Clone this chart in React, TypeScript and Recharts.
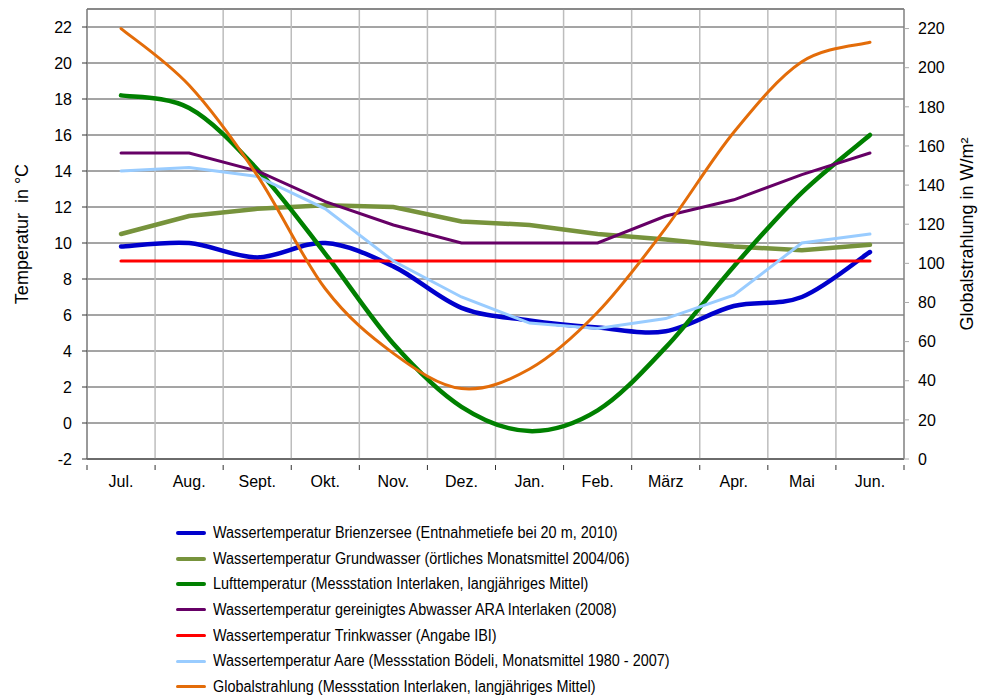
import { ComposedChart, Line, XAxis, YAxis, CartesianGrid, ReferenceLine, Label } from 'recharts';

// Monthly values, Jul -> Jun
const months = ['Jul.', 'Aug.', 'Sept.', 'Okt.', 'Nov.', 'Dez.', 'Jan.', 'Feb.', 'März', 'Apr.', 'Mai', 'Jun.'];
const brienzersee = [9.8, 10.0, 9.2, 10.0, 8.7, 6.4, 5.7, 5.3, 5.1, 6.5, 7.0, 9.5];
const grundwasser = [10.5, 11.5, 11.9, 12.1, 12.0, 11.2, 11.0, 10.5, 10.2, 9.8, 9.6, 9.9];
const luft = [18.2, 17.5, 14.1, 9.4, 4.4, 0.9, -0.45, 0.7, 4.2, 8.7, 12.8, 16.0];
const abwasser = [15, 15, 14.0, 12.3, 11.0, 10, 10, 10, 11.5, 12.4, 13.8, 15];
const trinkwasser = [9, 9, 9, 9, 9, 9, 9, 9, 9, 9, 9, 9];
const aare = [14, 14.2, 13.7, 11.9, 9.0, 7.0, 5.55, 5.25, 5.8, 7.1, 10.0, 10.5];
const globalstrahlung = [220, 191, 145, 87, 54, 36, 46, 75, 118, 167, 203, 213];

const tempTicks = [-2, 0, 2, 4, 6, 8, 10, 12, 14, 16, 18, 20, 22];
const radTicks = [0, 20, 40, 60, 80, 100, 120, 140, 160, 180, 200, 220];

const FONT = '"Liberation Sans", Arial, sans-serif';

// Excel-style smoothed line (Catmull-Rom as cubic bezier)
const excelSmooth = (context: any) => {
  let pts: number[][] = [];
  return {
    areaStart() {},
    areaEnd() {},
    lineStart() {
      pts = [];
    },
    lineEnd() {
      if (!pts.length) return;
      context.moveTo(pts[0][0], pts[0][1]);
      for (let i = 0; i < pts.length - 1; i++) {
        const p0 = pts[Math.max(i - 1, 0)];
        const p1 = pts[i];
        const p2 = pts[i + 1];
        const p3 = pts[Math.min(i + 2, pts.length - 1)];
        context.bezierCurveTo(
          p1[0] + (p2[0] - p0[0]) / 6,
          p1[1] + (p2[1] - p0[1]) / 6,
          p2[0] - (p3[0] - p1[0]) / 6,
          p2[1] - (p3[1] - p1[1]) / 6,
          p2[0],
          p2[1],
        );
      }
    },
    point(x: number, y: number) {
      pts.push([+x, +y]);
    },
  };
};

const series = [
  { key: 'brienzersee', name: 'Wassertemperatur Brienzersee (Entnahmetiefe bei 20 m, 2010)', color: '#0000cc', width: 4.5, smooth: true, axis: 'left' },
  { key: 'grundwasser', name: 'Wassertemperatur Grundwasser (örtliches Monatsmittel 2004/06)', color: '#77933c', width: 4.5, smooth: false, axis: 'left' },
  { key: 'luft', name: 'Lufttemperatur (Messstation Interlaken, langjähriges Mittel)', color: '#008000', width: 4.5, smooth: true, axis: 'left' },
  { key: 'abwasser', name: 'Wassertemperatur gereinigtes Abwasser ARA Interlaken (2008)', color: '#660066', width: 3, smooth: false, axis: 'left' },
  { key: 'trinkwasser', name: 'Wassertemperatur Trinkwasser (Angabe IBI)', color: '#ff0000', width: 3.2, smooth: false, axis: 'left' },
  { key: 'aare', name: 'Wassertemperatur Aare (Messstation Bödeli, Monatsmittel 1980 - 2007)', color: '#99ccff', width: 3, smooth: false, axis: 'left' },
  { key: 'globalstrahlung', name: 'Globalstrahlung (Messstation Interlaken, langjähriges Mittel)', color: '#e36c09', width: 3, smooth: true, axis: 'right' },
];

const data = months.map((month, i) => ({
  month,
  brienzersee: brienzersee[i],
  grundwasser: grundwasser[i],
  luft: luft[i],
  abwasser: abwasser[i],
  trinkwasser: trinkwasser[i],
  aare: aare[i],
  globalstrahlung: globalstrahlung[i],
}));

const tickStyle = { fill: '#000', fontSize: 16, fontFamily: FONT };

// month label plus tick marks on the category boundaries
const MonthTick = ({ x, y, payload, index, width, visibleTicksCount }: any) => {
  const half = width / (visibleTicksCount || months.length) / 2;
  return (
    <g>
      <line x1={x - half} x2={x - half} y1={y - 2} y2={y + 3} stroke="#333" />
      {index === months.length - 1 && <line x1={x + half} x2={x + half} y1={y - 2} y2={y + 3} stroke="#333" />}
      <text x={x} y={y + 20} textAnchor="middle" {...tickStyle}>
        {payload.value}
      </text>
    </g>
  );
};

const ChartLegend = () => (
  <div style={{ position: 'absolute', left: 176, top: 520, fontFamily: FONT, fontSize: 16, color: '#000' }}>
    {series.map((s) => (
      <div key={s.key} style={{ display: 'flex', alignItems: 'center', height: 25.7 }}>
        <div style={{ width: 30, height: 0, borderTop: `${s.width}px solid ${s.color}`, borderRadius: 2, marginRight: 7 }} />
        <span style={{ display: 'inline-block', transform: 'scaleX(0.9)', transformOrigin: 'left center', whiteSpace: 'nowrap' }}>
          {s.name}
        </span>
      </div>
    ))}
  </div>
);

export default function App() {
  return (
    <div style={{ position: 'absolute', left: 0, top: 0, width: 986, height: 700, background: '#fff' }}>
      <ComposedChart width={986} height={700} data={data} margin={{ top: 9, right: 0, bottom: 211, left: 0 }}>
        <CartesianGrid yAxisId="left" vertical={false} stroke="#4a4a4a" strokeWidth={1} />
        <CartesianGrid
          yAxisId="left"
          horizontal={false}
          stroke="#bdbdbd"
          strokeWidth={1.5}
          verticalCoordinatesGenerator={({ offset }: any) =>
            months.map((_, i) => offset.left + (i * offset.width) / months.length)
          }
        />
        <XAxis
          dataKey="month"
          scale="band"
          height={30}
          axisLine={{ stroke: '#333' }}
          tickLine={false}
          tick={<MonthTick />}
          interval={0}
        />
        <YAxis
          yAxisId="left"
          width={87}
          domain={[-2, 23]}
          ticks={tempTicks}
          allowDataOverflow
          tick={tickStyle}
          tickSize={5}
          tickMargin={10}
          axisLine={{ stroke: '#666' }}
          tickLine={{ stroke: '#333' }}
        >
          <Label
            value={'Temperatur\u00a0 in °C'}
            angle={-90}
            position="insideLeft"
            offset={22}
            style={{ textAnchor: 'middle', fill: '#000', fontSize: 18, fontFamily: FONT }}
          />
        </YAxis>
        <YAxis
          yAxisId="right"
          orientation="right"
          width={82}
          domain={[0, 230]}
          ticks={radTicks}
          allowDataOverflow
          tick={{ ...tickStyle, textAnchor: 'start' }}
          tickSize={5}
          tickMargin={9}
          axisLine={{ stroke: '#808080', strokeWidth: 1.5 }}
          tickLine={{ stroke: '#aaa' }}
        >
          <Label
            value="Globalstrahlung in W/m²"
            angle={-90}
            position="insideRight"
            offset={19}
            style={{ textAnchor: 'middle', fill: '#000', fontSize: 18, fontFamily: FONT }}
          />
        </YAxis>
        <ReferenceLine yAxisId="left" y={23} stroke="#808080" strokeWidth={1.5} />
        {series.map((s) => (
          <Line
            key={s.key}
            yAxisId={s.axis}
            dataKey={s.key}
            name={s.name}
            type={s.smooth ? (excelSmooth as any) : 'linear'}
            stroke={s.color}
            strokeWidth={s.width}
            strokeLinecap="round"
            dot={false}
            activeDot={false}
            isAnimationActive={false}
          />
        ))}
      </ComposedChart>
      <ChartLegend />
    </div>
  );
}
